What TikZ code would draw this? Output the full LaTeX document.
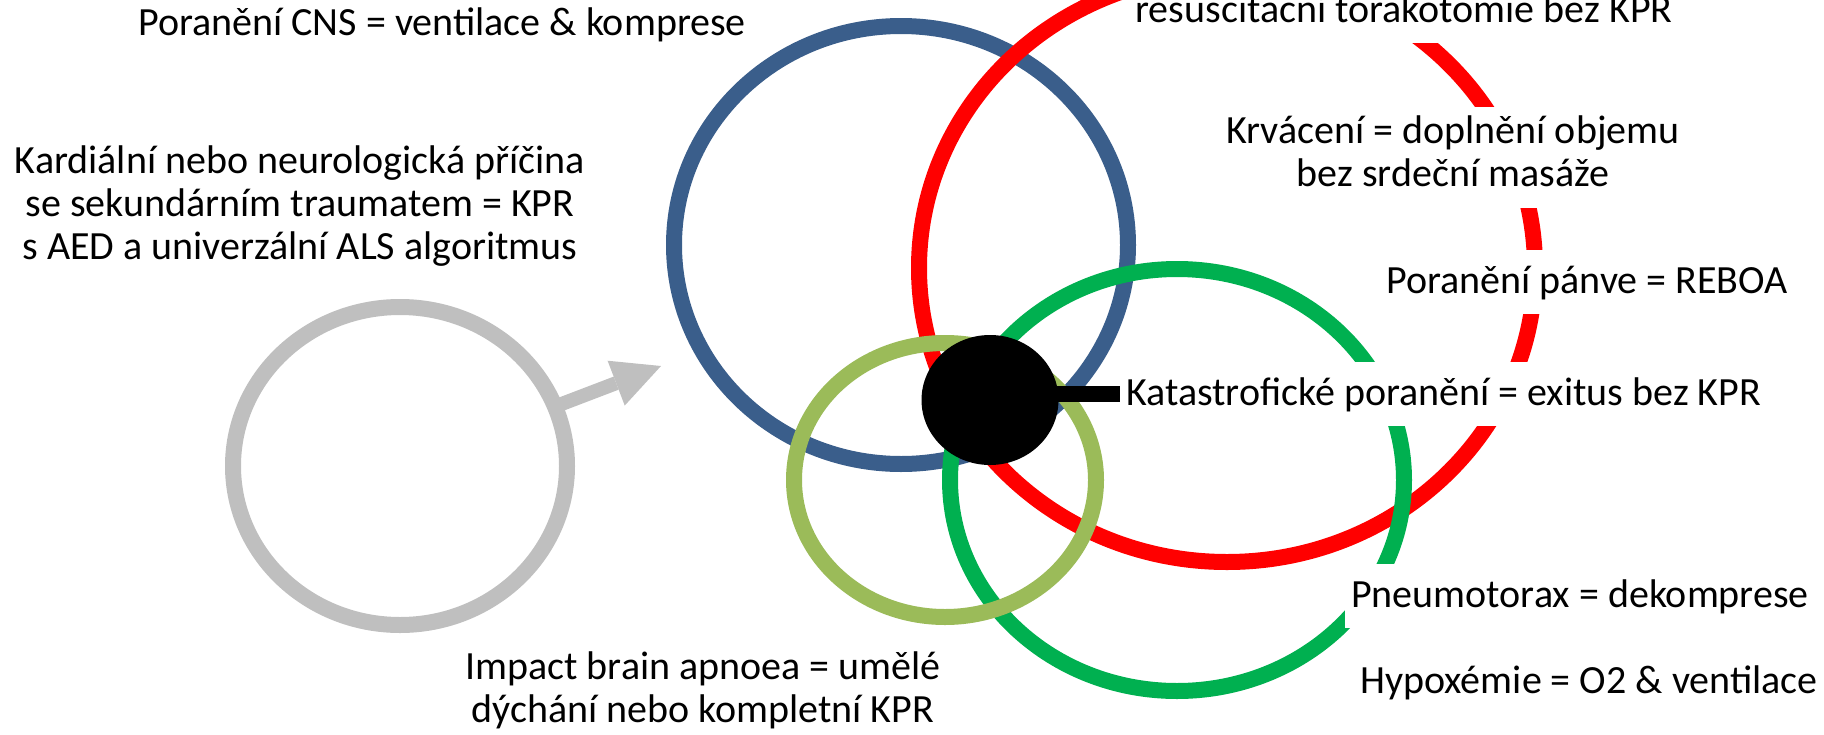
\documentclass[tikz,border=0pt]{standalone}
\usepackage{fontspec}
\setmainfont{Carlito}
\usetikzlibrary{shapes.geometric,arrows.meta}

\definecolor{cnsblue}{RGB}{58,94,139}
\definecolor{bleedred}{RGB}{255,0,0}
\definecolor{hypogreen}{RGB}{0,176,80}
\definecolor{apnoegreen}{RGB}{155,187,89}
\definecolor{cardgray}{RGB}{191,191,191}
\newcommand{\tstrut}{\rule[-12pt]{0pt}{46pt}}

\begin{document}
\begin{tikzpicture}[x=1pt,y=-1pt,
    ring/.style={draw=#1, ellipse, line width=16pt, inner sep=0pt, outer sep=0pt},
    txt/.style={fill=white, inner xsep=6pt, inner ysep=9pt, align=center,
      font=\fontsize{40}{43}\selectfont,
      execute at begin node=\tstrut, execute at end node=\tstrut}]
    \useasboundingbox (0,0) rectangle (1824,734);
    % Drawing the circles
    \node[ring=cardgray, minimum width=334pt, minimum height=318pt] (card) at (400,466) {};
    \node[ring=cnsblue, minimum width=454pt, minimum height=438pt] (cns) at (901,245) {};
    \node[ring=bleedred, minimum width=616pt, minimum height=588pt] (bleed) at (1227,268) {};
    \node[ring=hypogreen, minimum width=454pt, minimum height=422pt] (hypo) at (1177,480) {};
    \node[ring=apnoegreen, minimum width=302pt, minimum height=274pt] (apnoe) at (945,480) {};
    % Arrow out of the grey circle
    \coordinate (tip) at (661,366);
    \draw[cardgray, line width=14pt,
      -{Triangle[length=48pt,width=48pt,line width=0pt]}] (card.21) -- (tip);
    % Black centre
    \node[ellipse, fill=black, inner sep=0pt, minimum width=137pt, minimum height=130pt] (dot) at (990,400) {};
    % Labelling
    \node[txt, anchor=north] (resus) at (1404,-21) {resuscitační torakotomie bez KPR};
    \node[txt, anchor=north] (krv) at (1453,107) {Krvácení = doplnění objemu\\bez srdeční masáže};
    \node[txt, anchor=north] (pelvis) at (1587,250) {Poranění pánve = REBOA};
    \node[txt, anchor=west] (katast) at (1120,394) {Katastrofické poranění = exitus bez KPR};
    \node[txt, anchor=north] (pneumo) at (1580,564) {Pneumotorax = dekomprese};
    \node[txt, anchor=north] (hypox) at (1589,650) {Hypoxémie = O2 \& ventilace};
    \node[txt, anchor=north] (cnstxt) at (442,-8) {Poranění CNS = ventilace \& komprese};
    \node[txt, anchor=north] (cardtxt) at (300,137) {Kardiální nebo neurologická příčina\\se sekundárním traumatem = KPR\\s AED a univerzální ALS algoritmus};
    \node[txt, anchor=north] (apnoetxt) at (703,643) {Impact brain apnoea = umělé\\dýchání nebo kompletní KPR};
    \draw[line width=16pt] (dot.center |- katast.west) -- (katast.west);
\end{tikzpicture}
\end{document}
